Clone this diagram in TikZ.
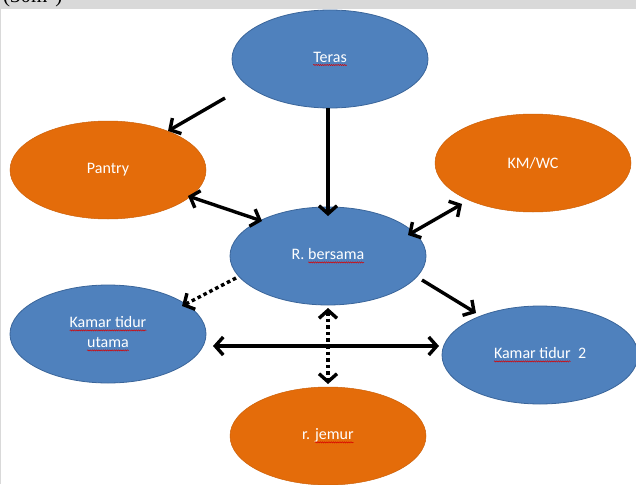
\documentclass[tikz,border=0pt]{standalone}
\usepackage{fontspec}
\setmainfont{Carlito}
\newfontfamily\seriffont{Liberation Serif}
\usetikzlibrary{arrows.meta,shapes.geometric,decorations.pathmorphing}
\definecolor{roomblue}{HTML}{4F81BD}
\definecolor{roomblueline}{HTML}{3A659A}
\definecolor{roomorange}{HTML}{E46C0A}
\definecolor{stripgray}{HTML}{D9D9D9}
% red wavy spell-check underline under a word
\newcommand\spellwave[1]{\tikz[baseline=(w.base),x=1pt,y=1pt]{%
  \node[rectangle,draw=none,fill=none,minimum width=0pt,minimum height=0pt,
        inner sep=0pt,outer sep=0pt,text=white] (w) {#1};
  \draw[red!85!black, line width=0.5pt, decorate,
        decoration={snake,amplitude=0.6pt,segment length=2.2pt}]
    ([yshift=-2.6pt]w.base west) -- ([yshift=-2.6pt]w.base east);}}
\tikzset{
  room/.style={ellipse, minimum width=196pt, minimum height=98pt, inner sep=0pt,
    text=white, font=\fontsize{16}{20}\selectfont, align=center},
  bluebox/.style={room, fill=roomblue, draw=roomblueline, line width=0.8pt},
  orangebox/.style={room, fill=roomorange, draw=roomorange!90!black, line width=0.5pt},
  barb/.tip={Straight Barb[length=8pt,width=18pt,line width=3.4pt]},
  arr/.style={line width=3.4pt, -barb},
  biarr/.style={line width=3.4pt, barb-barb},
  dotline/.style={dash pattern=on 3.6pt off 3pt}
}
\begin{document}
\begin{tikzpicture}[x=1pt,y=-1pt]
  \useasboundingbox (0,0) rectangle (636,484);
  \fill[white] (0,0) rectangle (636,484);
  % grey header strip with the cut-off caption
  \begin{scope}
    \clip (0,0) rectangle (636,9.5);
    \fill[stripgray] (0,0) rectangle (636,9.5);
    \node[anchor=base west, inner sep=0pt, font=\seriffont\fontsize{21}{24}\selectfont] (cap) at (3,3) {(30m\textsuperscript{2})};
  \end{scope}
  \draw[stripgray, line width=1.2pt] (0.6,9.5) -- (0.6,484);

  % rooms
  \node[bluebox]   (teras)  at (330,59)  {\spellwave{Teras}};
  \node[orangebox] (pantry) at (108,170) {Pantry};
  \node[orangebox] (kmwc)   at (533,163) {KM/WC};
  \node[bluebox]   (rb)     at (328,256) {R. \spellwave{bersama}};
  \node[bluebox]   (ktu)    at (108,334) {\spellwave{Kamar tidur}\\\spellwave{utama}};
  \node[bluebox]   (kt2)    at (540,355) {\spellwave{Kamar tidur}\ \ 2};
  \node[orangebox] (jemur)  at (328,436) {r. \spellwave{jemur}};

  % connections
  \draw[arr]   ([shift={(-105,39)}]teras.center) -- ([shift={(60,-39)}]pantry.center);
  \draw[arr]   ([shift={(-2,49)}]teras.center)   -- ([shift={(0,-40)}]rb.center);
  \draw[biarr] ([shift={(80,26)}]pantry.center)  -- ([shift={(-66,-35)}]rb.center);
  \draw[biarr] ([shift={(80,-21)}]rb.center)     -- ([shift={(-71,41)}]kmwc.center);
  \draw[arr]   ([shift={(94,24)}]rb.center)      -- ([shift={(-64,-42)}]kt2.center);
  \draw[arr,dotline]   ([shift={(-92,22)}]rb.center) -- ([shift={(74,-28)}]ktu.center);
  \draw[biarr] ([shift={(105,12)}]ktu.center)    -- ([shift={(-101,-9)}]kt2.center);
  \draw[biarr,dotline] ([shift={(0,52)}]rb.center) -- ([shift={(0,-52)}]jemur.center);
\end{tikzpicture}
\end{document}
